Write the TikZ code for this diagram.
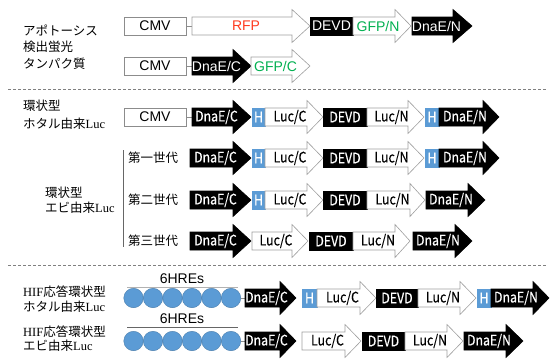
\documentclass[tikz,border=0pt]{standalone}
\usepackage{fontspec}
\setmainfont{Liberation Serif}
\setsansfont{Liberation Sans}
\newfontfamily\cjk{Noto Sans CJK JP}
\newfontfamily\gfont[FakeBold=0.3,FakeStretch=0.85]{Noto Sans CJK JP}
\definecolor{hblue}{HTML}{5B9BD5}
\definecolor{cblue}{HTML}{5B9BD5}
\definecolor{rfpred}{HTML}{FF3B1F}
\definecolor{gfpgreen}{HTML}{00B050}
\newcommand\jl[1]{{\cjk #1}}
\newcount\gnum
\tikzset{
  whitearr/.style={draw=gray!75, fill=white, line width=0.6pt},
  blackarr/.style={draw=black, fill=black, line width=0.6pt},
  cmvbox/.style={draw=gray!90, fill=white, line width=0.7pt},
  hbox/.style={draw=hblue, fill=hblue, line width=0.4pt},
  ttop/.style={inner sep=0pt, font=\sffamily\fontsize{14}{16}\selectfont},
  tlow/.style={inner sep=0pt, font=\gfont\fontsize{14.5}{16}\selectfont},
  lab/.style={anchor=west, inner sep=0pt, font=\fontsize{12.5}{14}\selectfont},
  conn/.style={draw=gray!90, line width=0.7pt},
  sep/.style={draw=gray, line width=0.6pt, dash pattern=on 3pt off 2pt},
}
% arrow: start, head base, tip, y, shape style, text style, text
\newcommand\GArrow[7]{%
  \global\advance\gnum by 1
  \draw[#5] ({#1},{#4-9}) -- ({#2},{#4-9}) -- ({#2},{#4-16.5}) -- ({#3},{#4})
     -- ({#2},{#4+16.5}) -- ({#2},{#4+9}) -- ({#1},{#4+9}) -- cycle;
  \node[#6] (g\the\gnum) at ({(#1+#2)/2+4},{#4}) {#7};
}
% box: x1, x2, y, shape style, text style, text
\newcommand\GBox[6]{%
  \global\advance\gnum by 1
  \draw[#4] ({#1},{#3-9}) rectangle ({#2},{#3+9});
  \node[#5] (g\the\gnum) at ({(#1+#2)/2},{#3}) {#6};
}
\begin{document}
\begin{tikzpicture}[x=1pt,y=-1pt]
\useasboundingbox (0,0) rectangle (550,359);

% ---------- section 1 ----------
\node[lab] (l1a) at (23,30) {\jl{アポトーシス}};
\node[lab] (l1b) at (23,47) {\jl{検出蛍光}};
\node[lab] (l1c) at (23,64) {\jl{タンパク質}};

\GBox{124}{186}{26}{cmvbox}{ttop}{CMV}
\draw[conn] (186,26) -- (192,26);
\GArrow{192}{292}{310}{26}{whitearr}{ttop,text=rfpred}{RFP}
\GBox{310}{353}{26}{blackarr}{ttop,text=white}{DEVD}
\GArrow{353}{395}{411}{26}{whitearr}{ttop,text=gfpgreen}{GFP/N}
\GArrow{412}{453}{472}{26}{blackarr}{ttop,text=white}{DnaE/N}

\GBox{124}{186}{66}{cmvbox}{ttop}{CMV}
\draw[conn] (186,66) -- (192,66);
\GArrow{192}{233}{251}{66}{blackarr}{ttop,text=white}{DnaE/C}
\GArrow{251}{292}{310}{66}{whitearr}{ttop,text=gfpgreen}{GFP/C}

\draw[sep] (8,89) -- (546,89);

% ---------- section 2 ----------
\node[lab] (l2a) at (23,106) {\jl{環状型}};
\node[lab] (l2b) at (23,124) {\jl{ホタル由来}Luc};

\GBox{124}{186}{117}{cmvbox}{ttop}{CMV}
\draw[conn] (186,117) -- (192,117);
\GArrow{192}{233}{251}{117}{blackarr}{tlow,text=white}{DnaE/C}
\GBox{252}{265}{117}{hbox}{tlow,text=white}{H}
\GArrow{265}{307}{323}{117}{whitearr}{tlow}{Luc/C}
\GBox{323}{367}{117}{blackarr}{tlow,text=white}{DEVD}
\GArrow{367}{408}{424}{117}{whitearr}{tlow}{Luc/N}
\GBox{425}{439}{117}{hbox}{tlow,text=white}{H}
\GArrow{439}{483}{499}{117}{blackarr}{tlow,text=white}{DnaE/N}

% generation 1
\node[lab] (gen1) at (128,158) {\jl{第一世代}};
\GArrow{190}{233}{251}{158}{blackarr}{tlow,text=white}{DnaE/C}
\GBox{252}{265}{158}{hbox}{tlow,text=white}{H}
\GArrow{265}{307}{323}{158}{whitearr}{tlow}{Luc/C}
\GBox{323}{367}{158}{blackarr}{tlow,text=white}{DEVD}
\GArrow{367}{408}{424}{158}{whitearr}{tlow}{Luc/N}
\GBox{425}{439}{158}{hbox}{tlow,text=white}{H}
\GArrow{439}{483}{499}{158}{blackarr}{tlow,text=white}{DnaE/N}

% generation 2
\node[lab] (gen2) at (128,200) {\jl{第二世代}};
\GArrow{190}{233}{251}{200}{blackarr}{tlow,text=white}{DnaE/C}
\GBox{252}{265}{200}{hbox}{tlow,text=white}{H}
\GArrow{265}{307}{323}{200}{whitearr}{tlow}{Luc/C}
\GBox{323}{367}{200}{blackarr}{tlow,text=white}{DEVD}
\GArrow{367}{410}{425}{200}{whitearr}{tlow}{Luc/N}
\GArrow{426}{468}{485}{200}{blackarr}{tlow,text=white}{DnaE/N}

% generation 3
\node[lab] (gen3) at (128,241) {\jl{第三世代}};
\GArrow{190}{233}{251}{241}{blackarr}{tlow,text=white}{DnaE/C}
\GArrow{252}{292}{308}{241}{whitearr}{tlow}{Luc/C}
\GBox{309}{353}{241}{blackarr}{tlow,text=white}{DEVD}
\GArrow{353}{395}{410}{241}{whitearr}{tlow}{Luc/N}
\GArrow{413}{455}{472}{241}{blackarr}{tlow,text=white}{DnaE/N}

\coordinate (brT) at (123,150);
\coordinate (brB) at (123,247);
\draw[draw=gray!80!black, line width=0.6pt] (brT) -- (brB);
\node[lab] (l3a) at (45,193) {\jl{環状型}};
\node[lab] (l3b) at (45,208) {\jl{エビ由来}Luc};

\draw[sep] (8,265) -- (546,265);

% ---------- section 3 ----------
\node[lab] (l4a) at (23,292) {HIF\jl{応答環状型}};
\node[lab] (l4b) at (23,307) {\jl{ホタル由来}Luc};
\node[lab] (l5a) at (23,332) {HIF\jl{応答環状型}};
\node[lab] (l5b) at (23,346) {\jl{エビ由来}Luc};

% HIF row 1
\node[ttop] (hre1) at (182,279) {6HREs};
\draw[draw=gray!60, line width=1pt] (127,287) -- (238,287);
\foreach \i in {0,...,5} {
  \node[circle, draw=cblue!80!black, line width=0.4pt, fill=cblue, minimum size=19.5pt, inner sep=0pt] (ca\i) at ({133.5+19.5*\i},298) {};
}
\draw[conn] (ca5.east) -- (245,298);
\GArrow{245}{280}{296}{298}{blackarr}{tlow,text=white}{DnaE/C}
\GBox{302}{317}{298}{hbox}{tlow,text=white}{H}
\GArrow{317}{360}{376}{298}{whitearr}{tlow}{Luc/C}
\GBox{376}{418}{298}{blackarr}{tlow,text=white}{DEVD}
\GArrow{418}{460}{476}{298}{whitearr}{tlow}{Luc/N}
\GBox{477}{491}{298}{hbox}{tlow,text=white}{H}
\GArrow{491}{533}{549}{298}{blackarr}{tlow,text=white}{DnaE/N}

% HIF row 2
\node[ttop] (hre2) at (182,319) {6HREs};
\draw[draw=gray!80!black, line width=0.8pt] (127,327) -- (238,327);
\foreach \i in {0,...,5} {
  \node[circle, draw=cblue!80!black, line width=0.4pt, fill=cblue, minimum size=19.5pt, inner sep=0pt] (cb\i) at ({133.5+19.5*\i},341) {};
}
\draw[conn] (cb5.east) -- (245,341);
\GArrow{245}{280}{296}{341}{blackarr}{tlow,text=white}{DnaE/C}
\GArrow{302}{345}{361}{341}{whitearr}{tlow}{Luc/C}
\GBox{362}{405}{341}{blackarr}{tlow,text=white}{DEVD}
\GArrow{405}{447}{463}{341}{whitearr}{tlow}{Luc/N}
\GArrow{464}{506}{523}{341}{blackarr}{tlow,text=white}{DnaE/N}

\end{tikzpicture}
\end{document}
